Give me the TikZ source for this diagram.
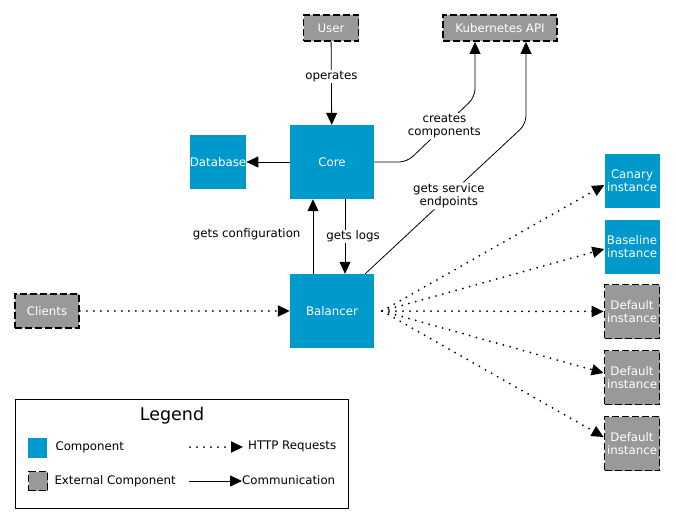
\documentclass[tikz,border=0pt]{standalone}
\usepackage{fontspec}
\setmainfont{DejaVu Sans}
\usetikzlibrary{arrows.meta,calc}

\definecolor{compblue}{RGB}{0,153,204}
\definecolor{extgray}{RGB}{153,153,153}

\tikzset{
    comp/.style={fill=compblue, text=white, inner sep=0pt, align=center},
    ext/.style={fill=extgray, draw=black, line width=1.8pt, dash pattern=on 7pt off 3pt, text=white, inner sep=0pt, align=center},
    comm/.style={-{Triangle[length=12pt,width=11pt]}, line width=0.8pt},
    http/.style={comm, line width=2pt, line cap=round, dash pattern=on 0pt off 7pt},
    lbl/.style={fill=white, inner sep=1pt, align=center}
}

\begin{document}
\begin{tikzpicture}[x=1pt,y=-1pt,font=\fontsize{11.8}{13.5}\selectfont]

    \useasboundingbox (0,0) rectangle (676,524);

    \node[ext, minimum width=55pt, minimum height=26pt] (user) at (331,28) {User};
    \node[ext, minimum width=114pt, minimum height=26pt] (kube) at (500,28) {Kubernetes API};
    \node[comp, minimum width=84pt, minimum height=74pt] (core) at (332,162) {Core};
    \node[comp, minimum width=56pt, minimum height=54pt] (db) at (218,162) {Database};
    \node[comp, minimum width=84pt, minimum height=74pt] (bal) at (332,311) {Balancer};
    \node[ext, minimum width=64pt, minimum height=34pt] (clients) at (47,311) {Clients};

    \foreach \n/\y/\t/\s in {canary/180.5/Canary/comp, baseline/246.5/Baseline/comp, defa/311.5/Default/ext, defb/377.5/Default/ext, defc/443.5/Default/ext}
        \node[\s, minimum width=55pt, minimum height=54pt] (\n) at (632,\y) {\t\\instance};

    \draw[comm] (user) -- node[lbl, pos=0.42] {operates} (core);
    \draw[comm] (core) -- (db);
    \draw[comm, rounded corners=8pt] (core.east) -- (407,162) -- node[lbl, pos=0.55] {creates\\components} (475,97) -- ($(kube.south)+(-25,0)$);
    \draw[comm, rounded corners=8pt] ($(bal.north east)+(-9,0)$) -- node[lbl, pos=0.52] {gets service\\endpoints} (526,124) -- ($(kube.south)+(26,0)$);
    \draw[comm] ($(bal.north)+(-19,0)$) -- ($(core.south)+(-19,0)$);
    \node[anchor=east] (cfg) at (304,234) {gets configuration};
    \draw[comm] ($(core.south)+(13,0)$) -- node[lbl, xshift=8pt] {gets logs} ($(bal.north)+(13,0)$);

    \draw[http] (clients) -- (bal);
    \coordinate (fan) at (382,311);
    \foreach \n/\d in {canary/-4.5, baseline/-2.5, defa/0, defb/4.5, defc/6.5}
        \draw[http] (fan) -- ([yshift=\d pt]\n.west);

    % legend
    \draw[line width=0.8pt] (15,399) rectangle (348,508);
    \node[font=\fontsize{17.5}{20}\selectfont] (legend) at (172,416) {Legend};
    \node[comp, minimum width=19pt, minimum height=20pt] (lcomp) at (37.5,448) {};
    \node[anchor=west] (lcompt) at (52,447) {Component};
    \node[ext, minimum width=19pt, minimum height=19pt] (lext) at (38,481) {};
    \node[anchor=west] (lextt) at (51,481) {External Component};
    \coordinate (lhttp) at (190,447);
    \node[anchor=west, inner sep=0pt] (lhttpt) at (248,446) {HTTP Requests};
    \draw[http] (lhttp) -- ($(lhttpt.west)+(-5,1)$);
    \coordinate (lcomm) at (189,481);
    \node[anchor=west, inner sep=0pt] (lcommt) at (242,480) {Communication};
    \draw[comm] (lcomm) -- ($(lcommt.west)+(0,1)$);

\end{tikzpicture}
\end{document}
